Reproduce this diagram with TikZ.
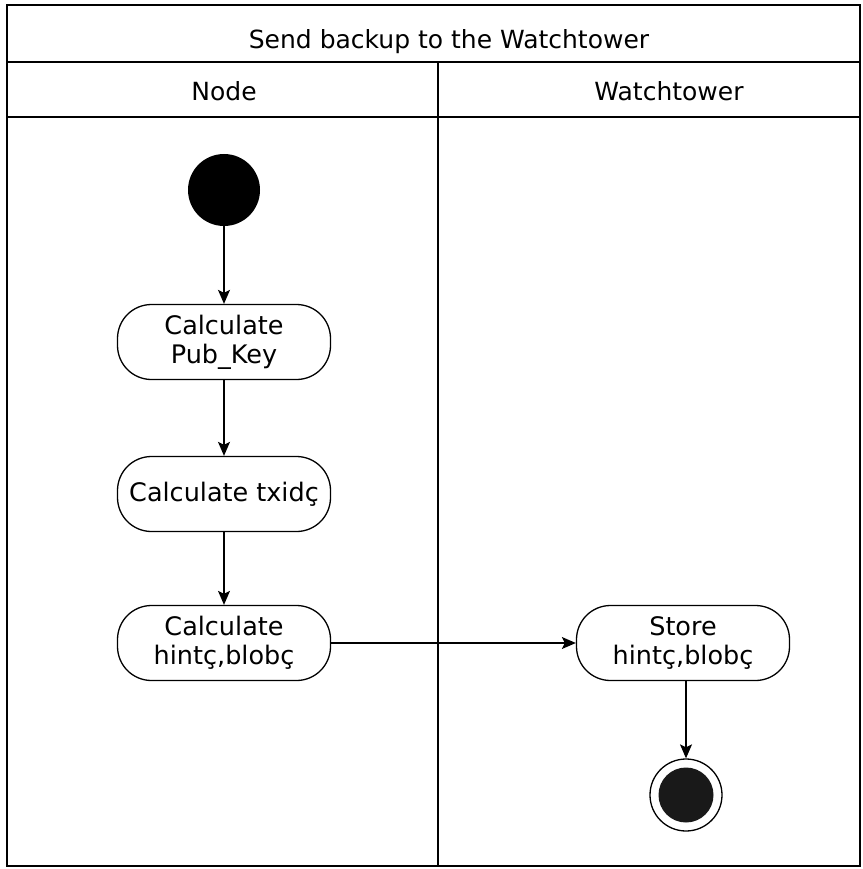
\documentclass[tikz,border=0pt]{standalone}
\usepackage{fontspec}
\setmainfont{DejaVu Sans}
\usetikzlibrary{arrows.meta,positioning}
\begin{document}
\begin{tikzpicture}[x=1pt,y=-1pt,
  lane/.style={draw,line width=1.3pt},
  act/.style={draw,line width=1.3pt,rounded corners=34pt,minimum width=213pt,minimum height=75pt,align=center,font=\fontsize{25.5}{29}\selectfont,inner sep=0pt},
  startst/.style={circle,fill=black,minimum size=72pt,inner sep=0pt},
  endouter/.style={circle,draw,line width=1.3pt,minimum size=72pt,inner sep=0pt},
  endinner/.style={circle,fill=black!90,minimum size=55pt,inner sep=0pt},
  flow/.style={line width=1.3pt,-{Stealth[length=14pt,width=12pt,inset=3pt]}},
  hdr/.style={font=\fontsize{25}{29}\selectfont}
]
\useasboundingbox (0,0) rectangle (862,869);
\fill[white] (0,0) rectangle (862,869);
% swimlane frame
\draw[lane] (7,5) rectangle (860,866);
\draw[lane] (7,62) -- (860,62);
\draw[lane] (7,117) -- (860,117);
\draw[lane] (438,62) -- (438,866);
\node[hdr] (title) at (449,42) {Send backup to the Watchtower};
\node[hdr] (lnode) at (224,91) {Node};
\node[hdr] (lwt) at (669,91) {Watchtower};
% nodes
\node[startst] (start) at (224,190) {};
\node[act] (pub) at (224,342) {Calculate\\Pub\_Key};
\node[act] (txid) at (224,494) {Calculate txidç};
\node[act] (hint) at (224,643) {Calculate\\hintç,blobç};
\node[act] (store) at (683,643) {Store\\hintç,blobç};
\node[endouter] (endo) at (686,795) {};
\node[endinner] (endi) at (686,795) {};
% flows
\draw[flow] (start) -- (pub);
\draw[flow] (pub) -- (txid);
\draw[flow] (txid) -- (hint);
\draw[flow] (hint) -- (store);
\draw[flow] (store.south -| endo) -- (endo.north);
\end{tikzpicture}
\end{document}
